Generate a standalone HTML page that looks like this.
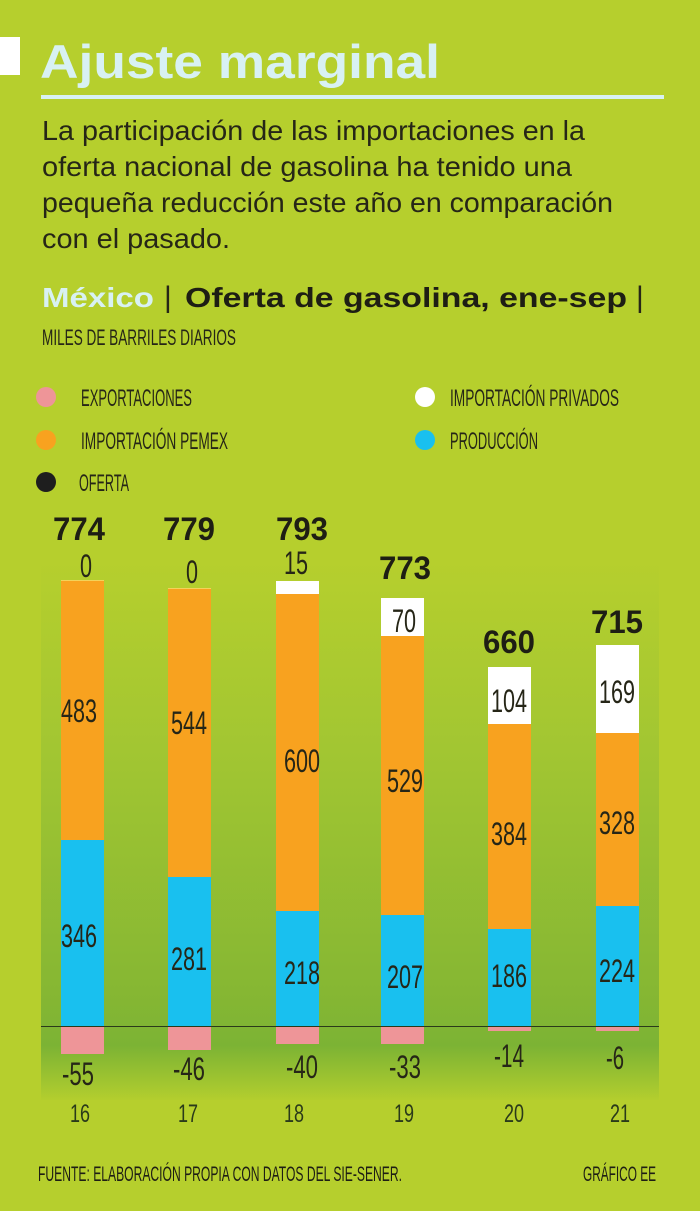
<!DOCTYPE html>
<html><head><meta charset="utf-8">
<style>
html,body{margin:0;padding:0;background:#b6cf2d;}
svg{display:block;}
text{font-family:"Liberation Sans",sans-serif;}
</style></head>
<body>
<svg width="700" height="1211" viewBox="0 0 700 1211" xmlns="http://www.w3.org/2000/svg">
<defs>
<linearGradient id="pg" x1="0" y1="0" x2="0" y2="1">
<stop offset="0" stop-color="#b6cf2d"/>
<stop offset="0.35" stop-color="#a2c632"/>
<stop offset="0.8" stop-color="#86b733"/>
<stop offset="0.9" stop-color="#7cb334"/>
<stop offset="1" stop-color="#b3ce2e"/>
</linearGradient>
</defs>
<rect width="700" height="1211" fill="#b6cf2d"/>
<rect x="41" y="560" width="618" height="540" fill="url(#pg)"/>

<!-- header -->
<rect x="0" y="37" width="20" height="38" fill="#ffffff"/>
<text x="40" y="78" font-size="47" font-weight="bold" fill="#d8f1f3" textLength="400" lengthAdjust="spacingAndGlyphs">Ajuste marginal</text>
<rect x="41" y="95" width="623" height="4" fill="#d8f1f3"/>
<g font-size="28" fill="#262617">
<text x="42" y="140" textLength="543" lengthAdjust="spacingAndGlyphs">La participación de las importaciones en la</text>
<text x="42" y="176" textLength="530" lengthAdjust="spacingAndGlyphs">oferta nacional de gasolina ha tenido una</text>
<text x="42" y="212" textLength="571" lengthAdjust="spacingAndGlyphs">pequeña reducción este año en comparación</text>
<text x="42" y="248" textLength="188" lengthAdjust="spacingAndGlyphs">con el pasado.</text>
</g>
<text x="42" y="307" font-size="28" font-weight="bold" fill="#d8f1f3" textLength="112" lengthAdjust="spacingAndGlyphs">México</text>
<text x="164" y="307" font-size="30" fill="#262617">|</text>
<text x="185" y="307" font-size="28" font-weight="bold" fill="#1e1e14" textLength="442" lengthAdjust="spacingAndGlyphs">Oferta de gasolina, ene-sep</text>
<text x="636" y="307" font-size="30" fill="#262617">|</text>
<text x="42" y="345" font-size="22" fill="#262617" textLength="194" lengthAdjust="spacingAndGlyphs">MILES DE BARRILES DIARIOS</text>

<!-- legend -->
<g font-size="24" fill="#262617">
<circle cx="46" cy="397" r="10" fill="#ee9598"/>
<text x="81" y="406" textLength="111" lengthAdjust="spacingAndGlyphs">EXPORTACIONES</text>
<circle cx="46" cy="440" r="10" fill="#f8a21f"/>
<text x="81" y="449" textLength="147" lengthAdjust="spacingAndGlyphs">IMPORTACIÓN PEMEX</text>
<circle cx="46" cy="482" r="10" fill="#1e1e1e"/>
<text x="79" y="491" textLength="50" lengthAdjust="spacingAndGlyphs">OFERTA</text>
<circle cx="425" cy="397" r="10" fill="#ffffff"/>
<text x="450" y="406" textLength="169" lengthAdjust="spacingAndGlyphs">IMPORTACIÓN PRIVADOS</text>
<circle cx="425" cy="440" r="10" fill="#19c0ef"/>
<text x="450" y="449" textLength="88" lengthAdjust="spacingAndGlyphs">PRODUCCIÓN</text>
</g>

<!-- bars -->
<g>
<rect x="61" y="580" width="43" height="2" fill="#f3d35a"/>
<rect x="61" y="581" width="43" height="259" fill="#f8a21f"/>
<rect x="61" y="840" width="43" height="186" fill="#19c0ef"/>
<rect x="61" y="1026" width="43" height="28" fill="#ee9598"/>
<rect x="168" y="588" width="43" height="2" fill="#f3d35a"/>
<rect x="168" y="589" width="43" height="288" fill="#f8a21f"/>
<rect x="168" y="877" width="43" height="149" fill="#19c0ef"/>
<rect x="168" y="1026" width="43" height="24" fill="#ee9598"/>
<rect x="276" y="581" width="43" height="13" fill="#ffffff"/>
<rect x="276" y="594" width="43" height="317" fill="#f8a21f"/>
<rect x="276" y="911" width="43" height="115" fill="#19c0ef"/>
<rect x="276" y="1026" width="43" height="18" fill="#ee9598"/>
<rect x="381" y="598" width="43" height="38" fill="#ffffff"/>
<rect x="381" y="636" width="43" height="279" fill="#f8a21f"/>
<rect x="381" y="915" width="43" height="111" fill="#19c0ef"/>
<rect x="381" y="1026" width="43" height="18" fill="#ee9598"/>
<rect x="488" y="667" width="43" height="57" fill="#ffffff"/>
<rect x="488" y="724" width="43" height="205" fill="#f8a21f"/>
<rect x="488" y="929" width="43" height="97" fill="#19c0ef"/>
<rect x="488" y="1026" width="43" height="5" fill="#ee9598"/>
<rect x="596" y="645" width="43" height="88" fill="#ffffff"/>
<rect x="596" y="733" width="43" height="173" fill="#f8a21f"/>
<rect x="596" y="906" width="43" height="120" fill="#19c0ef"/>
<rect x="596" y="1026" width="43" height="5" fill="#ee9598"/>
</g>
<rect x="41" y="1026" width="618" height="1" fill="#2a3a1a"/>

<!-- totals -->
<g font-size="32" font-weight="bold" fill="#1e1e14" text-anchor="middle">
<text x="79" y="540" textLength="52" lengthAdjust="spacingAndGlyphs">774</text>
<text x="189" y="540" textLength="52" lengthAdjust="spacingAndGlyphs">779</text>
<text x="302" y="540" textLength="52" lengthAdjust="spacingAndGlyphs">793</text>
<text x="405" y="579" textLength="52" lengthAdjust="spacingAndGlyphs">773</text>
<text x="509" y="653" textLength="52" lengthAdjust="spacingAndGlyphs">660</text>
<text x="617" y="633" textLength="52" lengthAdjust="spacingAndGlyphs">715</text>
</g>

<!-- values -->
<g font-size="32" fill="#262617" text-anchor="middle">
<text x="86" y="577" textLength="12" lengthAdjust="spacingAndGlyphs">0</text>
<text x="192" y="583" textLength="12" lengthAdjust="spacingAndGlyphs">0</text>
<text x="296" y="574" textLength="24" lengthAdjust="spacingAndGlyphs">15</text>
<text x="404" y="632" textLength="24" lengthAdjust="spacingAndGlyphs">70</text>
<text x="509" y="712" textLength="36" lengthAdjust="spacingAndGlyphs">104</text>
<text x="617" y="703" textLength="36" lengthAdjust="spacingAndGlyphs">169</text>

<text x="79" y="722" textLength="36" lengthAdjust="spacingAndGlyphs">483</text>
<text x="189" y="734" textLength="36" lengthAdjust="spacingAndGlyphs">544</text>
<text x="302" y="772" textLength="36" lengthAdjust="spacingAndGlyphs">600</text>
<text x="405" y="792" textLength="36" lengthAdjust="spacingAndGlyphs">529</text>
<text x="509" y="845" textLength="36" lengthAdjust="spacingAndGlyphs">384</text>
<text x="617" y="834" textLength="36" lengthAdjust="spacingAndGlyphs">328</text>

<text x="79" y="947" textLength="36" lengthAdjust="spacingAndGlyphs">346</text>
<text x="189" y="970" textLength="36" lengthAdjust="spacingAndGlyphs">281</text>
<text x="302" y="984" textLength="36" lengthAdjust="spacingAndGlyphs">218</text>
<text x="405" y="988" textLength="36" lengthAdjust="spacingAndGlyphs">207</text>
<text x="509" y="987" textLength="36" lengthAdjust="spacingAndGlyphs">186</text>
<text x="617" y="982" textLength="36" lengthAdjust="spacingAndGlyphs">224</text>

<text x="78" y="1085" textLength="32" lengthAdjust="spacingAndGlyphs">-55</text>
<text x="189" y="1080" textLength="32" lengthAdjust="spacingAndGlyphs">-46</text>
<text x="302" y="1078" textLength="32" lengthAdjust="spacingAndGlyphs">-40</text>
<text x="405" y="1078" textLength="32" lengthAdjust="spacingAndGlyphs">-33</text>
<text x="509" y="1067" textLength="30" lengthAdjust="spacingAndGlyphs">-14</text>
<text x="615" y="1069" textLength="18" lengthAdjust="spacingAndGlyphs">-6</text>
</g>

<!-- years -->
<g font-size="25" fill="#2a3a1a" text-anchor="middle">
<text x="80" y="1122" textLength="20" lengthAdjust="spacingAndGlyphs">16</text>
<text x="188" y="1122" textLength="20" lengthAdjust="spacingAndGlyphs">17</text>
<text x="294" y="1122" textLength="20" lengthAdjust="spacingAndGlyphs">18</text>
<text x="404" y="1122" textLength="20" lengthAdjust="spacingAndGlyphs">19</text>
<text x="514" y="1122" textLength="20" lengthAdjust="spacingAndGlyphs">20</text>
<text x="620" y="1122" textLength="20" lengthAdjust="spacingAndGlyphs">21</text>
</g>

<!-- footer -->
<text x="38" y="1181" font-size="21" fill="#1e1e14" textLength="364" lengthAdjust="spacingAndGlyphs">FUENTE: ELABORACIÓN PROPIA CON DATOS DEL SIE-SENER.</text>
<text x="583" y="1181" font-size="21" fill="#1e1e14" textLength="73" lengthAdjust="spacingAndGlyphs">GRÁFICO EE</text>
</svg>
</body></html>
